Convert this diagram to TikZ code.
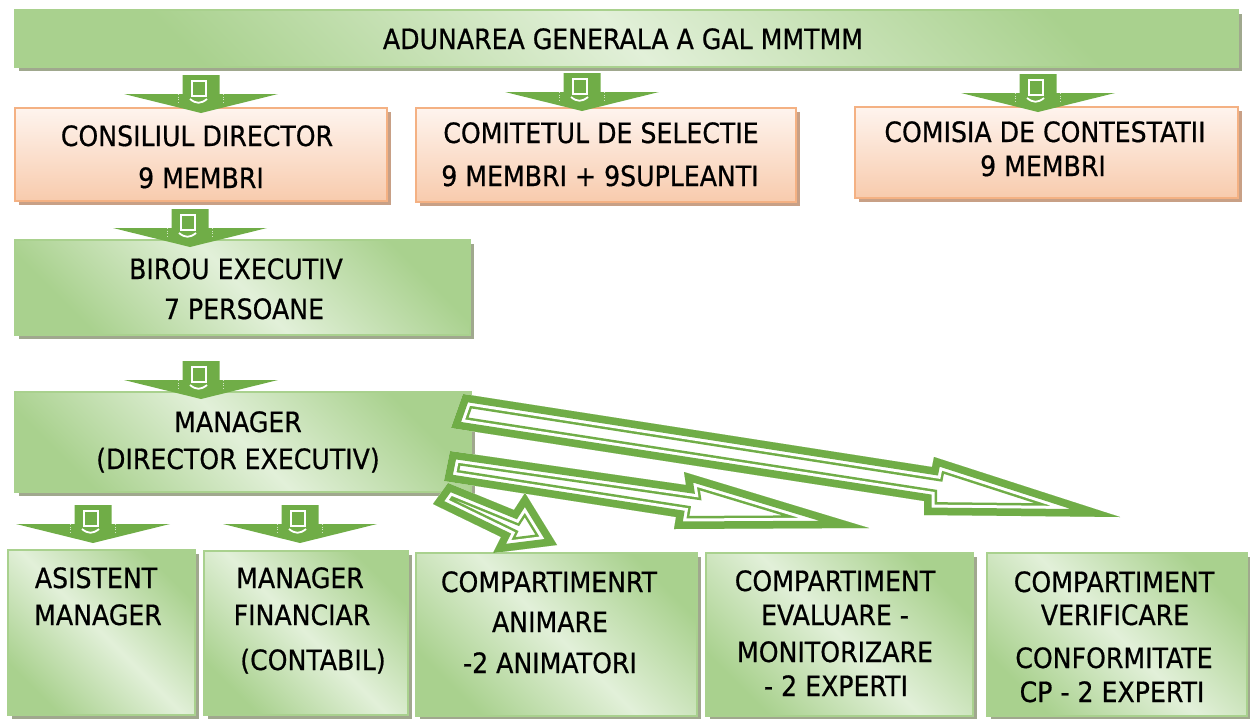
\documentclass[tikz,border=0pt]{standalone}
\usepackage{fontspec}
\setmainfont{DejaVu Sans}[FakeStretch=0.9,FakeBold=0.6]
\usetikzlibrary{shadows}
\definecolor{gdark}{HTML}{A9D18E}
\definecolor{glight}{HTML}{E2F0D9}
\definecolor{gline}{HTML}{A9D18E}
\definecolor{gshadow}{HTML}{A0A88E}
\definecolor{otop}{HTML}{FEF4EE}
\definecolor{obot}{HTML}{F8CBAD}
\definecolor{oline}{HTML}{F4B183}
\definecolor{oshadow}{HTML}{C8A086}
\definecolor{agreen}{HTML}{70AD47}
\newcommand\hollowarrow[1]{%
  \fill[white] #1 -- cycle;
  \begin{scope}
    \clip #1 -- cycle;
    \draw[agreen,line width=26pt,line join=miter] #1 -- cycle;
    \draw[white,line width=21pt,line join=miter] #1 -- cycle;
    \draw[agreen,line width=15pt,line join=miter] #1 -- cycle;
  \end{scope}}
\tikzset{
  box/.style={inner sep=0pt, outer sep=0pt, line width=1.5pt, anchor=north west},
  gbox/.style={box, draw=gline, left color=gdark, right color=gdark, middle color=glight,
    shading angle=-45,
    drop shadow={shadow xshift=4pt, shadow yshift=-4pt, fill=gshadow, opacity=1}},
  obox/.style={box, draw=oline, top color=otop, bottom color=obot,
    drop shadow={shadow xshift=4pt, shadow yshift=-4pt, fill=oshadow, opacity=1}},
  txt/.style={anchor=base, inner sep=0pt, font=\fontsize{28}{30}\selectfont},
  downarrow/.pic={
    \fill[agreen] (-18.5,-38) -- (18.5,-38) -- (18.5,-19) -- (77,-19) -- (0,0)
      -- (-77,-19) -- (-18.5,-19) -- cycle;
    \draw[white, line width=1.8pt] (-9,-32) rectangle (5,-17);
    \draw[white, line width=1.8pt] (-11,-14) .. controls (-5,-9) and (0,-9) .. (6,-14);
    \draw[white, dotted, line width=0.6pt, opacity=0.7] (-23,-19) -- (-23,-11);
    \draw[white, dotted, line width=0.6pt, opacity=0.7] (22,-19) -- (22,-11);
  }
}
\begin{document}
\begin{tikzpicture}[x=1pt,y=-1pt]
\useasboundingbox (0,0) rectangle (1250,718);
% boxes
\node[gbox, minimum width=1223pt, minimum height=57pt] (top) at (15,10) {};
\node[obox, minimum width=372pt, minimum height=93pt] (cons) at (15,108) {};
\node[obox, minimum width=380pt, minimum height=94pt] (comit) at (416,108) {};
\node[obox, minimum width=383pt, minimum height=91pt] (comis) at (855,107) {};
\node[gbox, minimum width=455pt, minimum height=95pt] (birou) at (15,240) {};
\node[gbox, minimum width=456pt, minimum height=100pt] (mgr) at (15,392) {};
\node[gbox, minimum width=187pt, minimum height=165pt] (asist) at (8,550) {};
\node[gbox, minimum width=204pt, minimum height=164pt] (fin) at (204,551) {};
\node[gbox, minimum width=281pt, minimum height=163pt] (anim) at (416,553) {};
\node[gbox, minimum width=267pt, minimum height=163pt] (eval) at (706,553) {};
\node[gbox, minimum width=260pt, minimum height=163pt] (verif) at (987,553) {};
% texts
\node[txt] (t1) at (623,49) {ADUNAREA GENERALA A GAL MMTMM};
\node[txt] (t2) at (197,146) {CONSILIUL DIRECTOR};
\node[txt] (t3) at (201,188) {9 MEMBRI};
\node[txt] (t4) at (601,143) {COMITETUL DE SELECTIE};
\node[txt] (t5) at (600,186) {9 MEMBRI + 9SUPLEANTI};
\node[txt] (t6) at (1045,142) {COMISIA DE CONTESTATII};
\node[txt] (t7) at (1043,176) {9 MEMBRI};
\node[txt] (t8) at (236,279) {BIROU EXECUTIV};
\node[txt] (t9) at (244,319) {7 PERSOANE};
\node[txt] (t10) at (238,432) {MANAGER};
\node[txt] (t11) at (238,469) {(DIRECTOR EXECUTIV)};
\node[txt] (t12) at (96,588) {ASISTENT};
\node[txt] (t13) at (98,625) {MANAGER};
\node[txt] (t14) at (300,588) {MANAGER};
\node[txt] (t15) at (302,625) {FINANCIAR};
\node[txt] (t16) at (313,670) {(CONTABIL)};
\node[txt] (t17) at (549,592) {COMPARTIMENRT};
\node[txt] (t18) at (550,632) {ANIMARE};
\node[txt] (t19) at (550,673) {-2 ANIMATORI};
\node[txt] (t20) at (835,591) {COMPARTIMENT};
\node[txt] (t21) at (835,625) {EVALUARE -};
\node[txt] (t22) at (835,662) {MONITORIZARE};
\node[txt] (t23) at (836,696) {- 2 EXPERTI};
\node[txt] (t24) at (1114,592) {COMPARTIMENT};
\node[txt] (t25) at (1115,625) {VERIFICARE};
\node[txt] (t26) at (1114,668) {CONFORMITATE};
\node[txt] (t27) at (1112,702) {CP - 2 EXPERTI};
% down arrows
\pic (a1) at (201,113) {downarrow};
\pic (a2) at (582,111) {downarrow};
\pic (a3) at (1038,112) {downarrow};
\pic (a4) at (190,247) {downarrow};
\pic (a5) at (201,399) {downarrow};
\pic (a6) at (93,543) {downarrow};
\pic (a7) at (300,543) {downarrow};
% hollow block arrows from manager
\hollowarrow{(463,394) -- (932,467) -- (934,457) -- (1120,517) -- (924,515) -- (924,501) -- (451,428)}
\hollowarrow{(450,451) -- (686,485) -- (684,472) -- (869,528) -- (674,529) -- (676,517) -- (444,481)}
\hollowarrow{(448,483) -- (514,510) -- (525,493) -- (557,545) -- (493,553) -- (501,537) -- (433,504)}
\end{tikzpicture}
\end{document}
